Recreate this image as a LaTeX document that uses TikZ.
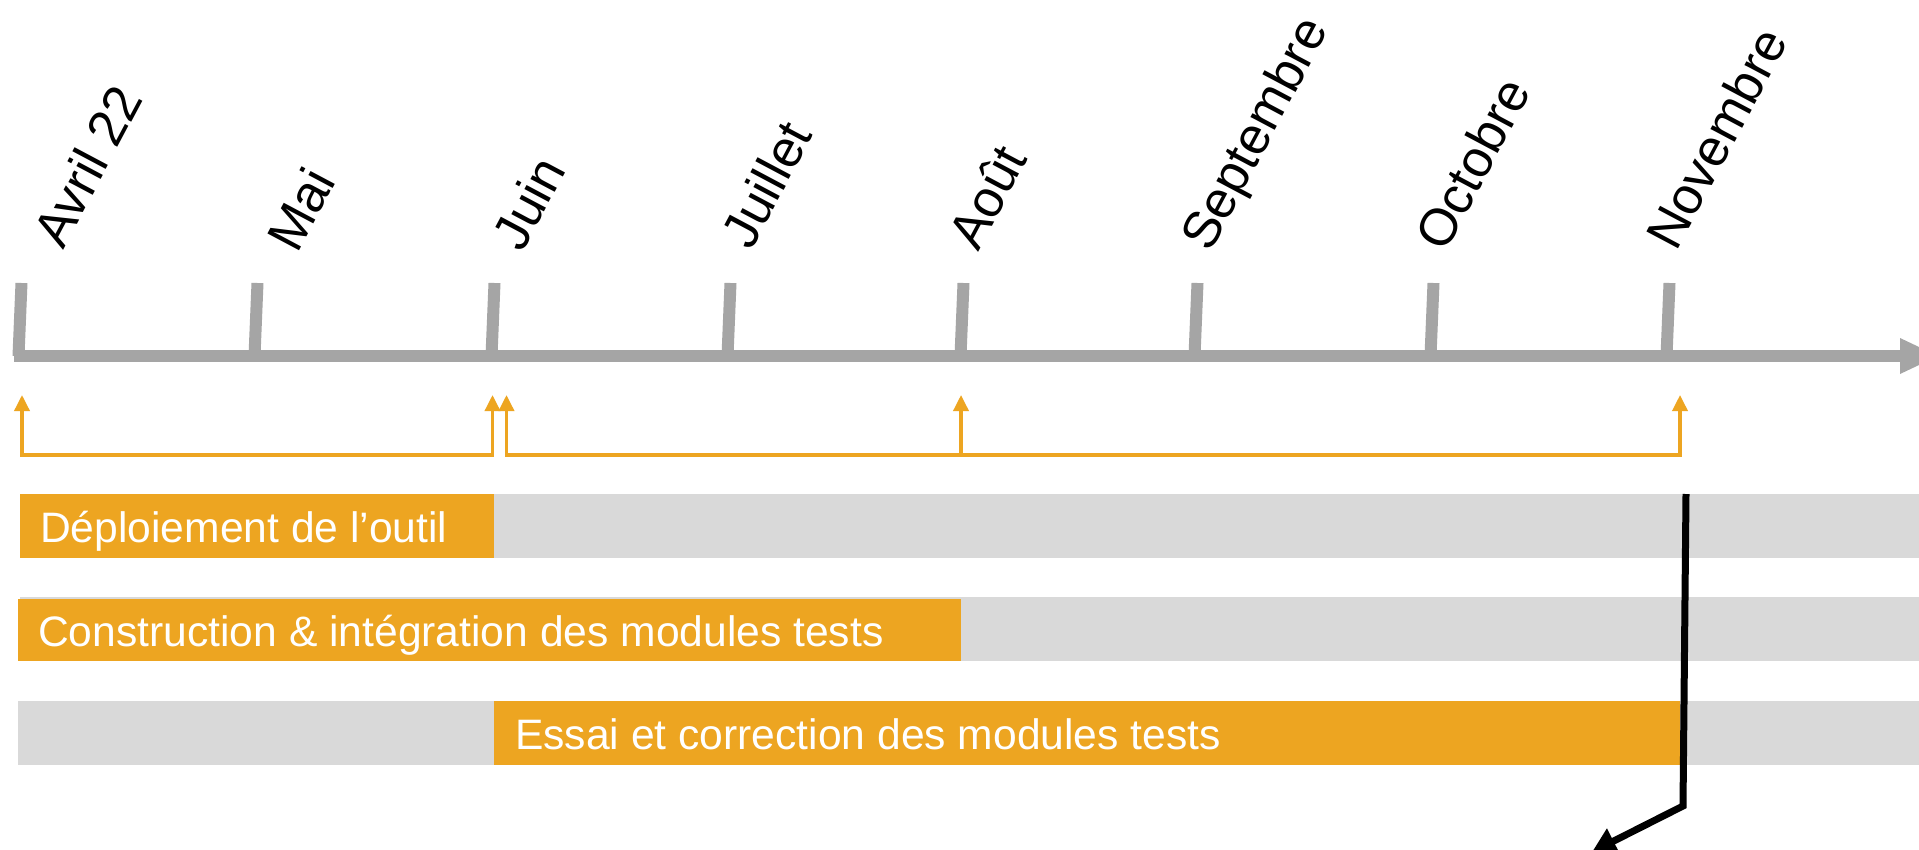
\documentclass[tikz,border=0pt]{standalone}
\usepackage{fontspec}
\setmainfont{Liberation Sans}
\usetikzlibrary{arrows.meta}
\definecolor{axisgray}{HTML}{A5A5A5}
\definecolor{bargray}{HTML}{D9D9D9}
\definecolor{barorange}{HTML}{EDA521}
\begin{document}
\begin{tikzpicture}[x=1pt,y=-1pt,
  month/.style={font=\fontsize{52}{60}\selectfont, rotate=62, anchor=base west, inner sep=0pt},
  bartext/.style={font=\fontsize{42.6}{50}\selectfont, text=white, anchor=base west, inner sep=0pt},
  tickline/.style={draw=axisgray, line width=12pt},
  obracket/.style={draw=barorange, line width=3.5pt, line join=miter},
  obothtips/.style={{Triangle[width=15pt,length=16pt]}-{Triangle[width=15pt,length=16pt]}},
  oendtip/.style={-{Triangle[width=15pt,length=16pt]}},
]
\clip (0,0) rectangle (1919,849);
\fill[white] (0,0) rectangle (1919,849);

% bars
\fill[bargray] (20,494) rectangle (1919,558);
\fill[barorange] (20,494) rectangle (494,558);
\fill[bargray] (20,597) rectangle (1919,661);
\fill[barorange] (18,599) rectangle (961,661);
\fill[bargray] (18,701) rectangle (1919,765);
\fill[barorange] (494,701) rectangle (1680,765);

\node[bartext] (t1) at (40,542) {Déploiement de l’outil};
\node[bartext] (t2) at (38,646) {Construction \& intégration des modules tests};
\node[bartext] (t3) at (515,749) {Essai et correction des modules tests};

% axis
\coordinate (ax0) at (14,356);
\coordinate (ax1) at (1900,356);
\draw[axisgray, line width=12pt] (ax0) -- (ax1);
\fill[axisgray] (1900,338) -- (1938,356) -- (1900,374) -- cycle;
\foreach \x/\n in {20/a,256/b,493/c,729/d,962/e,1196/f,1432/g,1668/h}{
  \coordinate (tk\n) at (\x+1.5,283);
  \coordinate (tb\n) at (\x-1.5,356);
  \draw[tickline] (tk\n) -- (tb\n);
}

% month labels
\node[month] (m1) at (63,251) {Avril 22};
\node[month] (m2) at (297,255) {Mai};
\node[month] (m3) at (522,254) {Juin};
\node[month] (m4) at (751,252) {Juillet};
\node[month] (m5) at (978,253) {Août};
\node[month] (m6) at (1210,254) {Septembre};
\node[month] (m7) at (1445,254) {Octobre};
\node[month] (m8) at (1676,253) {Novembre};

% orange brackets
\coordinate (a1) at (22,395);
\coordinate (c1) at (22,455);
\coordinate (c2) at (492.5,455);
\coordinate (a2) at (492.5,395);
\coordinate (a3) at (506.5,395);
\coordinate (c3) at (506.5,455);
\coordinate (c4) at (1680,455);
\coordinate (a4) at (1680,395);
\coordinate (c5) at (961,455);
\coordinate (a5) at (961,395);
\draw[obracket, obothtips] (a1) -- (c1) -- (c2) -- (a2);
\draw[obracket, obothtips] (a3) -- (c3) -- (c4) -- (a4);
\draw[obracket, oendtip] (c5) -- (a5);

% black arrow
\coordinate (k0) at (1686,494);
\coordinate (k1) at (1683,806);
\coordinate (k2) at (1592,852);
\draw[black, line width=7pt, line join=miter, -{Triangle[width=27pt,length=24pt]}] (k0) -- (k1) -- (k2);
\end{tikzpicture}
\end{document}
